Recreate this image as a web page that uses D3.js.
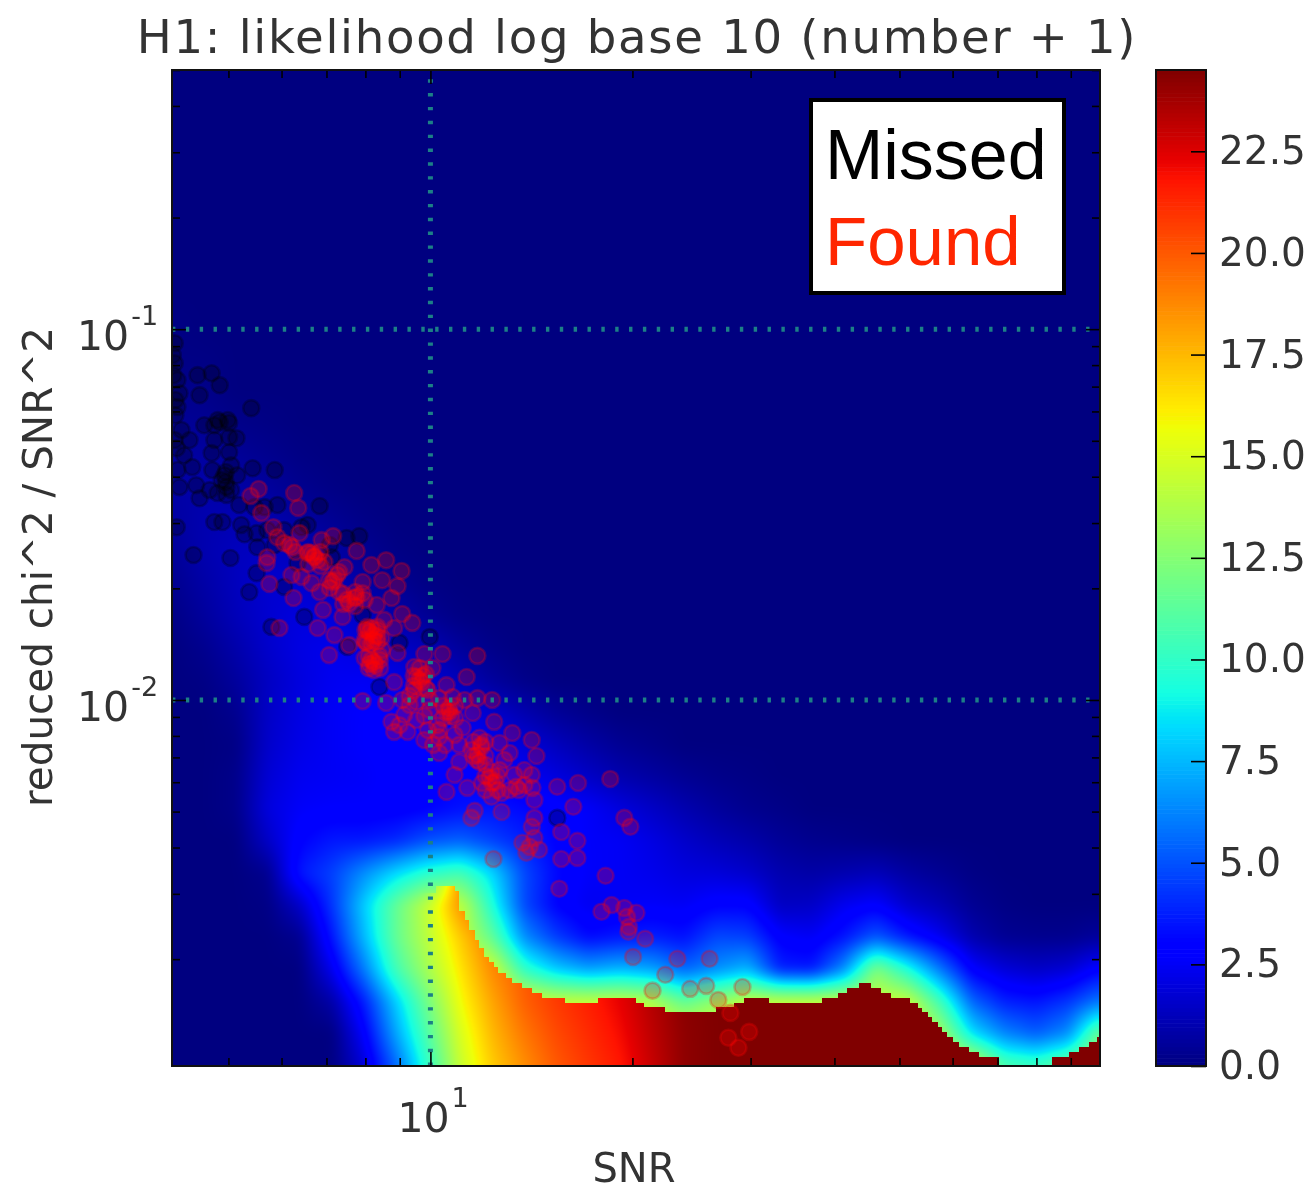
<!DOCTYPE html>
<html>
<head>
<meta charset="utf-8">
<title>H1: likelihood log base 10 (number + 1)</title>
<style>
  body { margin: 0; background: #fff; }
  svg { display: block; }
  .soft { filter: blur(0.6px); }
  .tick text { font-family: "DejaVu Sans", sans-serif; }
</style>
<script src="https://d3js.org/d3.v7.min.js"></script>
</head>
<body>
<div id="chart"></div>
<script>
// axis ranges and ticks
const snrDomain = [4.12, 99.5];
const chiDomain = [1.03e-3, 0.5];
const snrMajor = [10];
const snrMinor = [5, 6, 7, 8, 9, 20, 30, 40, 50, 60, 70, 80, 90];
const chiMajor = [0.1, 0.01];
const chiMinor = [0.002, 0.003, 0.004, 0.005, 0.006, 0.007, 0.008, 0.009,
  0.02, 0.03, 0.04, 0.05, 0.06, 0.07, 0.08, 0.09, 0.2, 0.3, 0.4, 0.5];
const colorMax = 24.5;
const colorTicks = [0, 2.5, 5, 7.5, 10, 12.5, 15, 17.5, 20, 22.5];

// likelihood outside the sharp edge: 32 rows top to bottom, 30 columns left to right
// (evenly spaced in log SNR and log chi, columns left out of a row are 0)
const heatRows = [
  [], [], [], [], [], [], [], [],
  [.1],
  [.1, .1],
  [.3, .2],
  [.5, .4, .2, .1],
  [.7, .7, .5, .3, .1],
  [.8, .9, .8, .6, .3, .1],
  [.7, 1, 1.1, 1, .7, .4, .15],
  [.5, 1, 1.3, 1.4, 1.2, .8, .4, .1],
  [.3, .8, 1.3, 1.7, 1.7, 1.3, .8, .4, .1],
  [.1, .6, 1.2, 1.7, 2, 1.9, 1.4, .9, .4, .1],
  [0, .3, .9, 1.6, 2.1, 2.3, 2, 1.5, 1.2, .6, .2],
  [0, .1, .6, 1.4, 2, 2.4, 2.5, 2.2, 1.8, 1.2, .6, .2],
  [0, 0, .3, 1.5, 2.1, 2.5, 2.7, 2.7, 2.6, 2.2, 1.6, 1, .5, .2],
  [0, 0, .1, 1.6, 2.2, 2.5, 2.7, 2.8, 2.8, 2.7, 2.4, 1.9, 1.3, .8, .4, .2],
  [0, 0, .2, 1.8, 2.4, 2.5, 2.6, 2.8, 3, 3.1, 2.9, 2.5, 2, 1.5, 1, .7, .4, .2, .1],
  [0, 0, .2, 2, 2.6, 2.7, 2.7, 2.8, 3, 3.4, 3.5, 3.2, 2.9, 2.6, 2, 1.5, 1, .6, .3, .15],
  [0, 0, 0, 1.5, 3, 3.6, 3.6, 4, 5, 5.4, 4.6, 3.8, 3, 2.6, 2.5, 2.1, 1.6, 1.2, .9, .5, .3, .2, .1],
  [0, 0, 0, .3, 3.6, 4.6, 6.5, 8.3, 9.8, 10.6, 8.3, 4.8, 3.2, 2.6, 2.5, 2.3, 2, 1.9, 1.6, 1, .8, 1, 1.2, .7, .4, .1],
  [0, 0, 0, .1, 1.5, 4.3, 8, 11.5, 14.5, 14.5, 9.5, 4.8, 3, 2.4, 2.5, 2.6, 2.5, 3, 3, 1.4, 1.5, 2.4, 2.8, 1.6, 1.1, .4, .1],
  [0, 0, 0, 0, .3, 3.5, 7.5, 11.5, 14.2, 14.5, 11.5, 6.5, 4.5, 3.2, 3.6, 3.8, 3.4, 4.8, 4.6, 2.8, 2.5, 3.5, 5.2, 3.6, 2.4, 1, .4, .3, .3, .6],
  [0, 0, 0, 0, 0, 2.3, 6, 10.5, 13.5, 15, 15, 10, 8, 7, 7.5, 7, 5.5, 6.5, 7.5, 3.8, 3.6, 6.5, 12.5, 9.5, 6, 2.8, 1.9, 1.5, 1.8, 3],
  [0, 0, 0, 0, 0, .8, 3.7, 8, 12, 15, 15, 15, 14.5, 14.5, 14.5, 14, 11.5, 13, 14.5, 14.5, 14.5, 14.5, 14.5, 14.5, 10.5, 5.5, 3.8, 3.5, 4.3, 6],
  [0, 0, 0, 0, 0, 0, 2.7, 7, 11, 14.5, 15, 15, 15, 15, 15, 15, 15, 15, 15, 15, 15, 15, 15, 15, 13.5, 8.5, 6.3, 5.3, 6.5, 12],
  [0, 0, 0, 0, 0, 0, 1.8, 5.5, 10, 14, 15, 15, 15, 15, 15, 15, 15, 15, 15, 15, 15, 15, 15, 15, 15, 15, 11, 10.5, 12, 14]
];

// likelihood under the sharp edge: last 7 rows of the same grid, starting at column 9
// (columns left out of a row are at the top of the colour range)
const coreFirstRow = 25;
const coreFirstCol = 9;
const coreRows = [
  [18.5, 20.5, 21, 21.5, 22, 23, 24],
  [18.5, 20, 20.8, 21.4, 22, 22.8, 23.8],
  [17, 19.3, 20.5, 21.2, 21.8, 22.6, 23.6, 24.4],
  [16.3, 18.7, 20, 21, 21.7, 22.5, 23.5, 24.4],
  [15.7, 18, 19.8, 20.8, 21.5, 22.3, 23.4, 24.3],
  [15, 17.5, 19.2, 20.4, 21.2, 22, 23.2, 24.2],
  [14.5, 17, 18.6, 20, 20.9, 21.7, 23, 24.2]
];

// staircase where the field jumps to the core, log10 values
const edgeLogSnr = [.981, 1.009, 1.036, 1.043, 1.051, 1.058, 1.066, 1.073, 1.080, 1.088, 1.095, 1.100,
  1.113, 1.122, 1.137, 1.152, 1.167, 1.200, 1.249, 1.307, 1.319, 1.349, 1.426, 1.453, 1.468, 1.504,
  1.583, 1.607, 1.621, 1.638, 1.656, 1.672, 1.687, 1.715, 1.726, 1.733, 1.741, 1.748, 1.756, 1.763,
  1.770, 1.779, 1.788, 1.803, 1.818, 1.848, 1.927, 1.952, 1.967, 1.982, 1.993];
const edgeLogChi = [-2.518, -2.501, -2.515, -2.569, -2.593, -2.620, -2.647, -2.668, -2.693, -2.706, -2.720, -2.736,
  -2.749, -2.763, -2.776, -2.790, -2.803, -2.817, -2.803, -2.817, -2.827, -2.841, -2.827, -2.817, -2.803, -2.817,
  -2.803, -2.790, -2.776, -2.763, -2.776, -2.790, -2.803, -2.817, -2.830, -2.841, -2.854, -2.868, -2.881, -2.895,
  -2.908, -2.922, -2.935, -2.949, -2.962, -2.99, -2.962, -2.949, -2.935, -2.922, -2.908];

// scatter points, log10 values
const missedLogSnr = [.619, .619, .623, .653, .674, .686, .656, .626, .623, .733, .683, .663, .700, .629, .622,
  .678, .700, .711, .700, .674, .703, .645, .675, .623, .735, .768, .693, .712, .696, .626, .651, .656, .683,
  .696, .835, .772, .678, .690, .718, .622, .723, .741, .808, .817, .894, .875, .742, .647, .702, .741, .782,
  .730, .812, .763, .802, .853, .738, .753, .999, .954, .924, .876, .899, 1.189,
  .686, .698, .695, .703, .695, .620, .620, .617, .616, .619,
  .678, .689, .671, .641, .633, .715, .757, .782, .768, .850];
const missedLogChi = [-1.038, -1.092, -1.137, -1.124, -1.119, -1.151, -1.178, -1.173, -1.210, -1.213, -1.245, -1.259,
  -1.253, -1.272, -1.321, -1.299, -1.291, -1.294, -1.332, -1.334, -1.367, -1.372, -1.380, -1.380, -1.375, -1.380,
  -1.394, -1.394, -1.426, -1.426, -1.421, -1.456, -1.442, -1.447, -1.477, -1.474, -1.520, -1.520, -1.528, -1.534,
  -1.553, -1.550, -1.534, -1.528, -1.558, -1.563, -1.588, -1.609, -1.617, -1.658, -1.695, -1.709, -1.776, -1.803,
  -1.631, -1.615, -1.480, -1.480, -1.830, -1.846, -1.965, -1.857, -1.771, -2.318,
  -1.251, -1.245, -1.412, -1.434, -1.385, -1.191, -1.232, -1.124, -1.070, -1.299,
  -1.259, -1.407, -1.434, -1.299, -1.340, -1.474, -1.542, -1.542, -1.582, -1.582];
const foundLogSnr = [.744, .732, .797, .803, .748, .766, .772, .805, .855, .838, .890, .782, .794, .757, .756, .827,
  .842, .817, .912, .934, .957, .928, .951, .899, .861, .872, .854, .793, .808, .760, .823, .835, .796, .899, .876,
  .890, .902, .920, .942, .840, .869, .958, .973, .931, .775, .832, .906, .921, .946,
  .857, .879, .849, .906, .916, .927, .905, .951, .916, .902, .928, .976, .979, .946, 1.018, 1.070, .991, 1.054,
  1.024, 1.003, .987, .996, .899, .934, .958, .979, 1.013, 1.033, 1.070, 1.092, 1.028, 1.063, 1.095, 1.048, 1.122,
  1.151, 1.158, 1.118, 1.076, 1.061, 1.069, 1.013, 1.013, .991, .942, .946, .966, .979, 1.043, 1.103, 1.024, 1.036,
  1.055, 1.092, 1.077, 1.103, 1.128, 1.151, 1.152, 1.155, 1.091, 1.106, 1.106, 1.066, 1.061, 1.094, 1.155, 1.151,
  1.137, 1.143, 1.155, 1.162, 1.148, 1.189, 1.220, 1.268, 1.213, 1.195, 1.219, 1.195, 1.219, 1.289, 1.298, 1.261,
  1.192, 1.255, 1.270, 1.289, 1.307, 1.293, 1.296, 1.295, 1.320, 1.302, 1.368, 1.416, 1.350, 1.331, 1.387, 1.411,
  1.465, 1.429, 1.447, 1.444, 1.475, 1.459,
  .909, .915, .921, .912, .918, .909, .924, .902, 1.028, 1.031, 1.024, 1.070, 1.076, 1.088, 1.097, 1.091, 1.082,
  .827, .832, .823, .887, .879, .984, .989, .976, .790, .849, .864, 1.010, .999, .991, 1.132, 1.110,
  .903, .921, .903, .921, .912, .912, .908, .925, .908, .925, .916, 1.019, 1.037, 1.019, 1.037, 1.064, 1.082, 1.064,
  1.082, 1.073, 1.073, 1.082, 1.100, 1.082, 1.100, .975, .993, .975, .993, .984, .969, .999, .870, .888, .870, .888,
  .818, .836, .818, .836, .799, .857, .864, .850, 1.013, 1.004, .996, 1.022, 1.036, 1.043, 1.051, .961, .954, .969,
  1.140, 1.125, 1.118, 1.140];
const foundLogChi = [-1.431, -1.450, -1.442, -1.482, -1.496, -1.534, -1.561, -1.550, -1.558, -1.569, -1.598, -1.577,
  -1.588, -1.615, -1.631, -1.615, -1.628, -1.604, -1.636, -1.623, -1.652, -1.677, -1.693, -1.682, -1.663, -1.642,
  -1.682, -1.663, -1.668, -1.687, -1.685, -1.709, -1.725, -1.712, -1.730, -1.722, -1.730, -1.744, -1.725, -1.757,
  -1.776, -1.768, -1.792, -1.784, -1.806, -1.806, -1.803, -1.803, -1.806,
  -1.825, -1.852, -1.879, -1.811, -1.825, -1.833, -1.846, -1.873, -1.898, -1.887, -1.865, -1.911, -1.938, -1.952,
  -1.876, -1.881, -1.876, -1.938, -1.960, -1.914, -1.952, -1.973, -2.003, -2.008, -2.000, -2.005, -1.995, -1.992,
  -1.995, -2.000, -2.032, -2.035, -2.059, -2.075, -2.089, -2.108, -2.151, -2.143, -2.127, -2.135, -2.162, -2.100,
  -2.143, -2.108, -2.059, -2.086, -2.086, -2.054, -2.167, -2.116, -2.248, -2.202, -2.237, -2.224, -2.224, -2.189,
  -2.234, -2.202, -2.237, -2.270, -2.261, -2.251, -2.302, -2.299, -2.318, -2.429, -2.318, -2.342, -2.385, -2.412,
  -2.372, -2.404, -2.396, -2.234, -2.224, -2.213, -2.288, -2.356, -2.380, -2.429, -2.426, -2.318, -2.342, -2.474,
  -2.509, -2.571, -2.553, -2.561, -2.574, -2.585, -2.612, -2.625, -2.644, -2.693, -2.698, -2.698, -2.741, -2.784,
  -2.779, -2.771, -2.774, -2.809, -2.844, -2.911, -2.895, -2.938,
  -1.817, -1.838, -1.828, -1.892, -1.906, -1.903, -1.881, -1.838, -2.022, -2.043, -2.032, -2.148, -2.121, -2.210,
  -2.221, -2.194, -2.175, -1.612, -1.623, -1.604, -1.725, -1.739, -1.946, -1.935, -1.973, -1.582, -1.677, -1.709,
  -2.068, -2.000, -2.043, -2.243, -2.162,
  -1.811, -1.811, -1.844, -1.844, -1.806, -1.849, -1.881, -1.892, -1.914, -1.914, -1.919, -2.016, -2.016, -2.049,
  -2.049, -2.113, -2.113, -2.151, -2.151, -2.102, -2.167, -2.205, -2.205, -2.243, -2.243, -1.935, -1.968, -1.962,
  -1.930, -1.914, -1.989, -2.027, -1.714, -1.709, -1.741, -1.747, -1.601, -1.601, -1.633, -1.639, -1.601, -1.677,
  -1.655, -1.698, -2.081, -2.121, -2.081, -2.121, -2.094, -2.121, -2.000, -2.040, -2.068, -2.014, -2.229, -2.202,
  -2.243, -2.189];

const plot = { left: 172, right: 1100, top: 70, bottom: 1066 };
const bar = { left: 1156, right: 1206 };

const x = d3.scaleLog().domain(snrDomain).range([plot.left, plot.right]);
const y = d3.scaleLog().domain(chiDomain).range([plot.bottom, plot.top]);
const colorY = d3.scaleLinear().domain([0, colorMax]).range([plot.bottom, plot.top]);

// matplotlib jet
const jetR = d3.scaleLinear([0, .35, .66, .89, 1], [0, 0, 255, 255, 128]);
const jetG = d3.scaleLinear([0, .125, .375, .64, .91, 1], [0, 0, 255, 255, 0, 0]);
const jetB = d3.scaleLinear([0, .11, .34, .65, 1], [128, 255, 255, 0, 0]);
const colorT = d3.scaleLinear().domain([0, colorMax]).range([0, 1]).clamp(true);

const svg = d3.select("#chart").append("svg").attr("width", 1314).attr("height", 1191);

// heat field, sampled per pixel from the grids above
const w = plot.right - plot.left;
const h = plot.bottom - plot.top;
const colAt = d3.scaleLinear().domain([plot.left, plot.right]).range([0, 29]);
const rowAt = d3.scaleLinear().domain([plot.top, plot.bottom]).range([0, 31]);

function sample(get, fc, fr) {
  const c = Math.min(Math.floor(fc), 28), r = Math.min(Math.floor(fr), 30);
  const tc = fc - c, tr = fr - r;
  return (get(r, c) * (1 - tc) + get(r, c + 1) * tc) * (1 - tr) +
         (get(r + 1, c) * (1 - tc) + get(r + 1, c + 1) * tc) * tr;
}
const outerAt = (r, c) => heatRows[r][c] || 0;
// left of the core columns both fields are the same, so no seam shows below the edge's start
const coreAt = (r, c) => {
  const rr = Math.max(r, coreFirstRow);
  return c < coreFirstCol ? outerAt(rr, c) : (coreRows[rr - coreFirstRow][c - coreFirstCol] ?? colorMax);
};

const outer = new Float32Array(w * h);
const core = new Float32Array(w * h);
for (let j = 0; j < h; j++) {
  const fr = rowAt(plot.top + j + 0.5);
  for (let i = 0; i < w; i++) {
    const fc = colAt(plot.left + i + 0.5);
    outer[j * w + i] = sample(outerAt, fc, fr);
    core[j * w + i] = sample(coreAt, fc, fr);
  }
}
d3.blur2({ data: outer, width: w, height: h }, 5);
d3.blur2({ data: core, width: w, height: h }, 5);

// last pixel row above the edge, per pixel column
const edgeTop = d3.range(w).map(i => {
  const k = d3.bisectRight(edgeLogSnr, Math.log10(x.invert(plot.left + i + 0.5))) - 1;
  return k < 0 ? Infinity : y(Math.pow(10, edgeLogChi[k]));
});

const canvas = document.createElement("canvas");
canvas.width = w;
canvas.height = h;
const ctx = canvas.getContext("2d");
const img = ctx.createImageData(w, h);
for (let j = 0; j < h; j++) {
  for (let i = 0; i < w; i++) {
    const isCore = plot.top + j >= edgeTop[i];
    const t = colorT(isCore ? core[j * w + i] : outer[j * w + i]);
    const p = (j * w + i) * 4;
    img.data[p] = jetR(t);
    img.data[p + 1] = jetG(t);
    img.data[p + 2] = jetB(t);
    img.data[p + 3] = 255;
  }
}
ctx.putImageData(img, 0, 0);

svg.append("clipPath").attr("id", "plot-clip").append("rect")
  .attr("x", plot.left).attr("y", plot.top).attr("width", w).attr("height", h);

const plotArea = svg.append("g").attr("clip-path", "url(#plot-clip)");
plotArea.append("image")
  .attr("x", plot.left).attr("y", plot.top).attr("width", w).attr("height", h)
  .attr("href", canvas.toDataURL())
  .style("filter", "blur(0.7px)");

// scatter
function scatter(logSnr, logChi, color) {
  plotArea.append("g").style("filter", "blur(0.7px)")
    .selectAll("circle")
    .data(logSnr.map((d, i) => [d, logChi[i]]))
    .join("circle")
    .attr("cx", d => x(Math.pow(10, d[0])))
    .attr("cy", d => y(Math.pow(10, d[1])))
    .attr("r", 8)
    .attr("fill", color).attr("fill-opacity", 0.25)
    .attr("stroke", color).attr("stroke-opacity", 0.25).attr("stroke-width", 2.6);
}
scatter(missedLogSnr, missedLogChi, "#000");
scatter(foundLogSnr, foundLogChi, "#f00");

// dotted grid
const gridG = plotArea.append("g").attr("stroke", "#1c7f86").attr("stroke-width", 5)
  .attr("stroke-dasharray", "3.4 10.45");
gridG.selectAll(".gv").data(snrMajor).join("line")
  .attr("x1", d => x(d)).attr("x2", d => x(d)).attr("y1", plot.bottom).attr("y2", plot.top);
gridG.selectAll(".gh").data(chiMajor).join("line")
  .attr("x1", plot.left).attr("x2", plot.right).attr("y1", d => y(d)).attr("y2", d => y(d));

// tick marks on all four sides, drawn inward
function ticks(axisFn, scale, values, size, tx, ty) {
  const g = svg.append("g").attr("transform", `translate(${tx},${ty})`)
    .call(axisFn(scale).tickValues(values).tickSize(size).tickFormat(""));
  g.select(".domain").remove();
  g.selectAll("line").attr("stroke", "#000").attr("stroke-width", 1.6);
}
[[snrMajor, 14], [snrMinor, 8]].forEach(([v, s]) => {
  ticks(d3.axisBottom, x, v, -s, 0, plot.bottom);
  ticks(d3.axisTop, x, v, -s, 0, plot.top);
});
[[chiMajor, 14], [chiMinor, 8]].forEach(([v, s]) => {
  ticks(d3.axisLeft, y, v, -s, plot.left, 0);
  ticks(d3.axisRight, y, v, -s, plot.right, 0);
});

svg.append("rect").attr("x", plot.left).attr("y", plot.top).attr("width", w).attr("height", h)
  .attr("fill", "none").attr("stroke", "#111").attr("stroke-width", 2);

// colour bar
svg.append("g").selectAll("rect").data(d3.range(256)).join("rect")
  .attr("x", bar.left).attr("width", bar.right - bar.left)
  .attr("y", d => colorY((d + 1) / 256 * colorMax))
  .attr("height", h / 256 + 0.6)
  .attr("fill", d => {
    const t = (d + 0.5) / 256;
    return d3.rgb(jetR(t), jetG(t), jetB(t)).formatRgb();
  });
const colorAxis = svg.append("g").attr("class", "soft")
  .attr("transform", `translate(${bar.right},0)`)
  .call(d3.axisRight(colorY).tickValues(colorTicks).tickSize(-15).tickPadding(13).tickFormat(d3.format(".1f")));
colorAxis.select(".domain").remove();
colorAxis.selectAll("line").attr("stroke", "#000").attr("stroke-width", 1.6);
colorAxis.selectAll("text").attr("font-size", 39).attr("fill", "#333");
svg.append("rect").attr("x", bar.left).attr("y", plot.top).attr("width", bar.right - bar.left).attr("height", h)
  .attr("fill", "none").attr("stroke", "#111").attr("stroke-width", 2);

// text
const labels = svg.append("g").attr("class", "soft")
  .attr("font-family", "'DejaVu Sans', sans-serif").attr("fill", "#333");

function powerLabel(px, py, exponent) {
  const t = labels.append("text").attr("x", px).attr("y", py).attr("font-size", 41);
  t.append("tspan").text("10");
  t.append("tspan").attr("dx", 2).attr("dy", -25).attr("font-size", 27).text(exponent);
}
powerLabel(x(10) - 33, 1132, "1");
chiMajor.forEach((d, i) => powerLabel(77, y(d) + 21, i === 0 ? "-1" : "-2"));

labels.append("text").attr("x", 637).attr("y", 53).attr("text-anchor", "middle")
  .attr("font-size", 46.6).attr("letter-spacing", 1.7).text("H1: likelihood log base 10 (number + 1)");
labels.append("text").attr("x", 634).attr("y", 1182).attr("text-anchor", "middle")
  .attr("font-size", 40).text("SNR");
labels.append("text").attr("transform", "translate(52,567) rotate(-90)").attr("text-anchor", "middle")
  .attr("font-size", 40.5).text("reduced chi^2 / SNR^2");

// hand-placed key
const key = svg.append("g");
key.append("rect").attr("x", 811).attr("y", 100).attr("width", 253).attr("height", 193)
  .attr("fill", "#fff").attr("stroke", "#000").attr("stroke-width", 4);
key.append("text").attr("x", 825).attr("y", 179).attr("font-family", "'Liberation Sans', sans-serif")
  .attr("font-size", 70).attr("fill", "#000").text("Missed");
key.append("text").attr("x", 825).attr("y", 265).attr("font-family", "'Liberation Sans', sans-serif")
  .attr("font-size", 69).attr("fill", "#ff2600").text("Found");
</script>
</body>
</html>
